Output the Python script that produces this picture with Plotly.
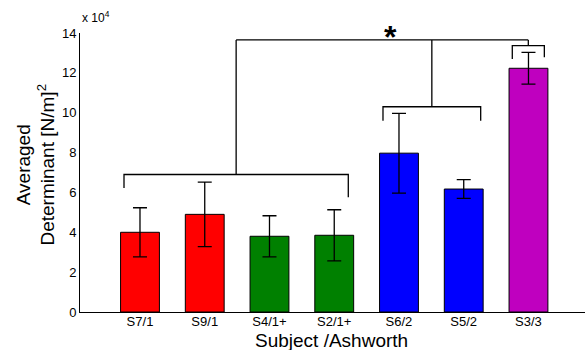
import plotly.graph_objects as go

# ---- data ----
categories = ["S7/1", "S9/1", "S4/1+", "S2/1+", "S6/2", "S5/2", "S3/3"]
values = [40000, 49000, 38000, 38500, 79700, 61700, 122300]
errors = [12300, 16200, 10300, 12800, 20000, 4700, 8000]
bar_colors = ["#FF0000", "#FF0000", "#008000", "#008000", "#0000FF", "#0000FF", "#BF00BF"]
ytick_vals = [0, 20000, 40000, 60000, 80000, 100000, 120000, 140000]
ytick_text = ["0", "2", "4", "6", "8", "10", "12", "14"]

# significance brackets (category position units, y in N/m^2)
br_left = [0.753, 4.753, 6.75]
br_right = [4.217, 6.262, 7.245]
br_y = [69000, 103000, 133700]
br_drop_left = [62200, 96000, 127000]
br_drop_right = [57600, 96000, 127800]
top_y = 136500
star_x = 4.87

xpos = list(range(1, len(categories) + 1))
FONT = "Liberation Sans, Arial, sans-serif"

fig = go.Figure()
fig.add_trace(go.Bar(
    x=xpos, y=values, width=0.6,
    marker=dict(color=bar_colors, line=dict(color="black", width=1)),
    error_y=dict(type="data", array=errors, color="black", thickness=1.3, width=7),
    showlegend=False,
))

# brackets
for l, r, y, dl, dr in zip(br_left, br_right, br_y, br_drop_left, br_drop_right):
    fig.add_trace(go.Scatter(
        x=[l, l, r, r], y=[dl, y, y, dr], mode="lines",
        line=dict(color="black", width=1.3), showlegend=False, hoverinfo="skip"))
    c = (l + r) / 2
    fig.add_trace(go.Scatter(
        x=[c, c], y=[y, top_y], mode="lines",
        line=dict(color="black", width=1.3), showlegend=False, hoverinfo="skip"))

centers = [(l + r) / 2 for l, r in zip(br_left, br_right)]
fig.add_trace(go.Scatter(
    x=[centers[0], centers[-1]], y=[top_y, top_y], mode="lines",
    line=dict(color="black", width=1.3), showlegend=False, hoverinfo="skip"))

# significance star (above plot area, so paper y)
fig.add_annotation(x=star_x, y=1.0, xref="x", yref="paper", text="<b>*</b>",
                   showarrow=False, font=dict(size=32, color="black", family=FONT),
                   yanchor="middle", xanchor="center", yshift=-4)

# y-axis title
fig.add_annotation(x=-0.088, y=0.527, xref="paper", yref="paper",
                   text="Averaged<br>Determinant [N/m]<sup>2</sup>",
                   textangle=-90, showarrow=False,
                   font=dict(size=19, color="black", family=FONT),
                   xanchor="center", yanchor="middle")
# x-axis title
fig.add_annotation(x=0.499, y=-0.1, xref="paper", yref="paper",
                   text="Subject /Ashworth", showarrow=False,
                   font=dict(size=19, color="black", family=FONT),
                   xanchor="center", yanchor="middle", yshift=-1)
# exponent label
fig.add_annotation(x=0.0, y=1.0, xref="paper", yref="paper",
                   text="x 10<sup>4</sup>", showarrow=False,
                   font=dict(size=12, color="black", family=FONT),
                   xanchor="left", yanchor="bottom", yshift=6)

fig.update_layout(
    width=585, height=350,
    margin=dict(l=80, r=0, t=33, b=38),
    plot_bgcolor="white", paper_bgcolor="white",
    font=dict(family=FONT, color="black", size=13),
    bargap=0.4,
)
fig.update_xaxes(
    range=[0.0734, 7.873], tickvals=xpos, ticktext=categories,
    showline=True, linecolor="black", linewidth=1, showgrid=False,
    zeroline=False, ticks="", tickfont=dict(size=13, color="black"),
    ticklabelstandoff=-3,
)
fig.update_yaxes(
    range=[0, 140000], tickvals=ytick_vals, ticktext=ytick_text,
    showline=True, linecolor="black", linewidth=1, showgrid=False,
    zeroline=False, ticks="", tickfont=dict(size=13, color="black"),
)

fig.write_html("out.html")
